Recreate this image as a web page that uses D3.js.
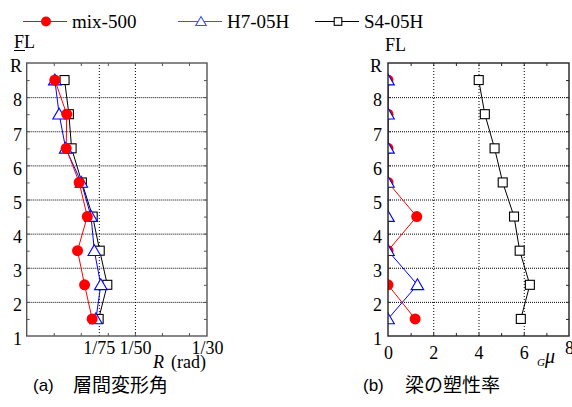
<!DOCTYPE html>
<html><head><meta charset="utf-8">
<script src="https://cdn.jsdelivr.net/npm/d3@7"></script>
<style>
body{margin:0;background:#fff} svg{display:block}
</style></head><body>
<svg id="c" width="572" height="407"></svg>
<script>
// ---------- data ----------
const floors = [1.5, 2.5, 3.5, 4.5, 5.5, 6.5, 7.5, 8.5];
const seriesNames = ["mix-500", "H7-05H", "S4-05H"];
const driftMix = [0.0121, 0.0107, 0.0094, 0.0112, 0.0097, 0.0073, 0.0074, 0.0052];
const driftH7  = [0.0128, 0.0137, 0.0125, 0.0119, 0.0101, 0.0072, 0.0060, 0.0052];
const driftS4  = [0.0133, 0.0149, 0.0135, 0.0122, 0.0102, 0.0083, 0.0078, 0.0070];
const ductMix = [1.2, 0, 0, 1.27, 0, 0, 0, 0];
const ductH7  = [0, 1.3, 0, 0, 0, 0, 0, 0];
const ductS4  = [5.87, 6.27, 5.82, 5.57, 5.07, 4.71, 4.28, 4.01];
const yTickValues = [1, 2, 3, 4, 5, 6, 7, 8, 9];
const yTickLabels = ["1", "2", "3", "4", "5", "6", "7", "8", "R"];
const driftTickValues = [1/75, 1/50, 1/30];
const driftTickLabels = ["1/75", "1/50", "1/30"];
const ductTickValues = [0, 2, 4, 6, 8];
const ductTickLabels = ["0", "2", "4", "6", "8"];
const captionA = ["(a)", "層間変形角"];
const captionB = ["(b)", "梁の塑性率"];

// ---------- setup ----------
const SERIF = "Liberation Serif";
const SANS = "Liberation Sans";
const JP = "Noto Sans CJK JP";
const svg = d3.select("#c");
const styles = {
  "mix-500": {color: "#ff0000", sym: "circle"},
  "H7-05H": {color: "#0000ff", sym: "triangle"},
  "S4-05H": {color: "#000000", sym: "square"}
};

function drawMarker(sel, sym, color, size) {
  if (sym === "circle") {
    sel.append("circle").attr("r", size).attr("fill", color).attr("stroke", "none");
  } else if (sym === "triangle") {
    const s = size;
    sel.append("path").attr("d", `M0,${-s*1.0}L${s*1.05},${s*0.8}L${-s*1.05},${s*0.8}Z`)
      .attr("fill", "#fff").attr("stroke", color).attr("stroke-width", 1.1);
  } else {
    const s = size;
    sel.append("rect").attr("x", -s).attr("y", -s).attr("width", 2*s).attr("height", 2*s)
      .attr("fill", "#fff").attr("stroke", color).attr("stroke-width", 1.1);
  }
}
const mSize = {circle: 5.5, triangle: 6, square: 4.5};

function panel(opts) {
  const {x, y, id, series, order, xMinor, yMinor, xGrid, frameColor} = opts;
  const [x0, x1] = x.range();
  const [y0, y1] = y.range();
  const g = svg.append("g");
  svg.append("clipPath").attr("id", id).append("rect")
    .attr("x", x0).attr("y", y1).attr("width", x1 - x0).attr("height", y0 - y1);

  g.append("g").attr("transform", `translate(${x0},0)`)
    .call(d3.axisLeft(y).tickValues([2,3,4,5,6,7,8]).tickSize(-(x1 - x0)).tickFormat(""))
    .call(a => a.select(".domain").remove())
    .call(a => a.selectAll("line").attr("stroke", "#000").attr("stroke-width", 1).attr("stroke-dasharray", "1,1"));
  g.append("g").attr("transform", `translate(0,${y0})`)
    .call(d3.axisBottom(x).tickValues(xGrid).tickSize(-(y0 - y1)).tickFormat(""))
    .call(a => a.select(".domain").remove())
    .call(a => a.selectAll("line").attr("stroke", "#000").attr("stroke-width", 1).attr("stroke-dasharray", "1,2"));

  const tk = 3;
  const styleT = a => { a.select(".domain").remove(); a.selectAll("line").attr("stroke", frameColor); };
  g.append("g").attr("transform", `translate(0,${y1})`).call(d3.axisTop(x).tickValues(xMinor).tickSize(-tk).tickFormat("")).call(styleT);
  g.append("g").attr("transform", `translate(0,${y0})`).call(d3.axisBottom(x).tickValues(xMinor).tickSize(-tk).tickFormat("")).call(styleT);
  g.append("g").attr("transform", `translate(${x0},0)`).call(d3.axisLeft(y).tickValues(yMinor).tickSize(-tk).tickFormat("")).call(styleT);
  g.append("g").attr("transform", `translate(${x1},0)`).call(d3.axisRight(y).tickValues(yMinor).tickSize(-tk).tickFormat("")).call(styleT);

  const dg = g.append("g").attr("clip-path", `url(#${id})`);
  const line = d3.line().x(d => x(d[0])).y(d => y(d[1]));
  order.forEach(name => {
    const vals = series[name];
    const st = styles[name];
    const pts = vals.map((v, i) => [v, floors[i]]);
    dg.append("path").attr("d", line(pts)).attr("fill", "none").attr("stroke", st.color).attr("stroke-width", 1);
    pts.forEach(p => {
      const m = dg.append("g").attr("transform", `translate(${x(p[0])},${y(p[1])})`);
      drawMarker(m, st.sym, st.color, mSize[st.sym]);
    });
  });

  g.append("rect").attr("x", x0).attr("y", y1).attr("width", x1 - x0).attr("height", y0 - y1)
    .attr("fill", "none").attr("stroke", frameColor).attr("stroke-width", 1.4);
  return g;
}

const yL = d3.scaleLinear().domain([1, 9]).range([336, 63]);
const xL = d3.scaleLinear().domain([0, 1/30]).range([26.7, 207]);
panel({
  x: xL, y: yL, id: "clipL",
  series: {"mix-500": driftMix, "H7-05H": driftH7, "S4-05H": driftS4},
  order: ["S4-05H", "H7-05H", "mix-500"],
  xMinor: [0.005, 0.01, 0.015, 0.02, 0.025, 0.03],
  yMinor: [1.5,2,2.5,3,3.5,4,4.5,5,5.5,6,6.5,7,7.5,8,8.5],
  xGrid: [1/75, 1/50],
  frameColor: "#555"
});

const xR = d3.scaleLinear().domain([0, 8]).range([388, 569]);
panel({
  x: xR, y: yL, id: "clipR",
  series: {"mix-500": ductMix, "H7-05H": ductH7, "S4-05H": ductS4},
  order: ["mix-500", "H7-05H", "S4-05H"],
  xMinor: [1,2,3,4,5,6,7],
  yMinor: [1.5,2,2.5,3,3.5,4,4.5,5,5.5,6,6.5,7,7.5,8,8.5],
  xGrid: [2, 4, 6],
  frameColor: "#222"
});

// ---------- tick labels ----------
function fontAll(s, fam, size) {
  s.attr("font-family", fam).attr("font-size", size);
  s.selectAll("text").attr("font-family", fam).attr("font-size", size).attr("fill", "#000");
}
function yLabels(xRight) {
  const a = d3.axisLeft(yL).tickValues(yTickValues).tickSize(0).tickPadding(0)
    .tickFormat((d, i) => yTickLabels[i]);
  svg.append("g").attr("transform", `translate(${xRight},3)`).call(a)
    .call(s => s.select(".domain").remove())
    .call(s => fontAll(s, SERIF, 18));
}
yLabels(22);
yLabels(382);

svg.append("g").attr("transform", `translate(0,341)`)
  .call(d3.axisBottom(xL).tickValues(driftTickValues).tickSize(0).tickPadding(0)
    .tickFormat((d, i) => driftTickLabels[i]))
  .call(s => s.select(".domain").remove())
  .call(s => fontAll(s, SERIF, 18));

svg.append("g").attr("transform", `translate(0,346)`)
  .call(d3.axisBottom(xR).tickValues(ductTickValues).tickSize(0).tickPadding(0)
    .tickFormat((d, i) => ductTickLabels[i]))
  .call(s => s.select(".domain").remove())
  .call(s => fontAll(s, SERIF, 18))
  .call(s => s.selectAll("text").attr("dy", (d) => d === 8 ? "0.45em" : "0.71em"));

function txt(x, y, fam, size, str) {
  return svg.append("text").attr("x", x).attr("y", y)
    .attr("font-family", fam).attr("font-size", size).text(str);
}
// FL labels
txt(14, 48, SERIF, 18, "FL");
svg.append("line").attr("x1", 14).attr("x2", 25).attr("y1", 50.5).attr("y2", 50.5).attr("stroke", "#000").attr("stroke-width", 1);
txt(385, 51, SERIF, 18, "FL");

// axis titles
const tA = svg.append("text").attr("x", 153).attr("y", 368).attr("font-family", SERIF).attr("font-size", 18);
tA.append("tspan").attr("font-style", "italic").text("R");
tA.append("tspan").attr("dx", 7).text("(rad)");
const tB = svg.append("text").attr("x", 537).attr("y", 366).attr("font-family", SERIF);
tB.append("tspan").attr("font-style", "italic").attr("font-size", 11).text("G");
tB.append("tspan").attr("font-style", "italic").attr("font-size", 20).attr("dy", -3).text("μ");

// captions
function caption(x, xj, c) {
  txt(x, 391, SANS, 17, c[0]);
  txt(xj, 392, JP, 19, c[1]);
}
caption(33, 73, captionA);
caption(363, 405, captionB);

// ---------- legend ----------
const legX = [23, 178, 315];
seriesNames.forEach((name, i) => {
  const st = styles[name];
  const col = name === "H7-05H" ? "#3355ff" : st.color;
  const lg = svg.append("g").attr("transform", `translate(${legX[i]},21.5)`);
  lg.append("line").attr("x1", 0).attr("x2", 44).attr("stroke", col).attr("stroke-width", 1);
  const m = lg.append("g").attr("transform", "translate(23,0)");
  drawMarker(m, st.sym, col, st.sym === "circle" ? 5 : (st.sym === "triangle" ? 5 : 3.8));
  lg.append("text").attr("x", 49).attr("y", 6.5).attr("font-family", SERIF).attr("font-size", 19).text(name);
});
</script>
</body></html>
